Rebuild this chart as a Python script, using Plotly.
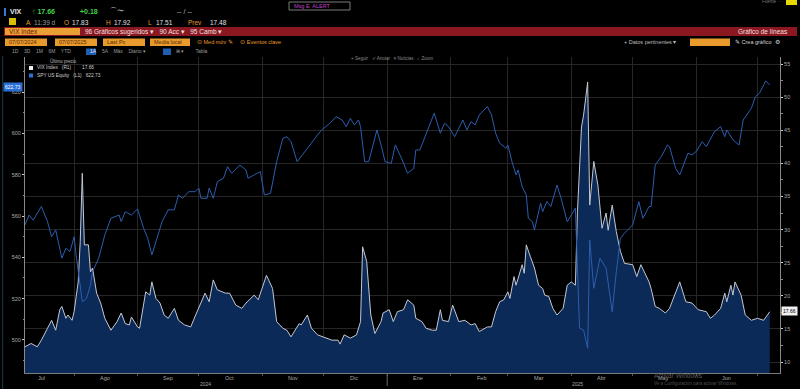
import plotly.graph_objects as go

# ---------------- data ----------------
spy_dates = ["2024-07-08","2024-07-10","2024-07-12","2024-07-16","2024-07-19","2024-07-21","2024-07-23","2024-07-26",
"2024-07-28","2024-07-30","2024-08-01","2024-08-02","2024-08-05","2024-08-07","2024-08-09","2024-08-10","2024-08-13",
"2024-08-16","2024-08-19","2024-08-23","2024-08-24","2024-08-26","2024-08-29","2024-09-01","2024-09-04","2024-09-06",
"2024-09-08","2024-09-10","2024-09-13","2024-09-16","2024-09-19","2024-09-21","2024-09-23","2024-09-26","2024-09-29",
"2024-10-01","2024-10-02","2024-10-05","2024-10-06","2024-10-08","2024-10-10","2024-10-13","2024-10-15","2024-10-17",
"2024-10-21","2024-10-24","2024-10-25","2024-10-28","2024-10-31","2024-11-02","2024-11-05","2024-11-08","2024-11-11",
"2024-11-13","2024-11-15","2024-11-18","2024-11-21","2024-11-25","2024-11-28","2024-11-30","2024-12-02","2024-12-04",
"2024-12-07","2024-12-10","2024-12-12","2024-12-14","2024-12-16","2024-12-18","2024-12-19","2024-12-21","2024-12-23",
"2024-12-27","2024-12-29","2024-12-31","2025-01-03","2025-01-05","2025-01-08","2025-01-11","2025-01-14","2025-01-15",
"2025-01-17","2025-01-20","2025-01-24","2025-01-27","2025-01-29","2025-01-31","2025-02-03","2025-02-07","2025-02-09",
"2025-02-11","2025-02-13","2025-02-15","2025-02-19","2025-02-21","2025-02-23","2025-02-25","2025-02-28","2025-03-01",
"2025-03-03","2025-03-05","2025-03-06","2025-03-08","2025-03-10","2025-03-11","2025-03-13","2025-03-14","2025-03-17",
"2025-03-18","2025-03-20","2025-03-22","2025-03-25","2025-03-27","2025-03-30","2025-04-01","2025-04-03","2025-04-05",
"2025-04-07","2025-04-09","2025-04-10","2025-04-12","2025-04-15","2025-04-18","2025-04-21","2025-04-23","2025-04-25",
"2025-04-27","2025-05-01","2025-05-04","2025-05-06","2025-05-09","2025-05-10","2025-05-12","2025-05-15","2025-05-18",
"2025-05-19","2025-05-22","2025-05-24","2025-05-28","2025-05-30","2025-06-01","2025-06-04","2025-06-06","2025-06-10",
"2025-06-13","2025-06-15","2025-06-16","2025-06-19","2025-06-22","2025-06-24","2025-06-28","2025-06-30","2025-07-02",
"2025-07-05","2025-07-07"]
spy_close = [555.7,560.5,558.0,564.6,557.3,550.0,553.3,539.6,544.4,542.8,550.0,541.0,518.5,520.0,526.6,533.0,539.6,
550.8,558.9,560.5,557.3,562.1,560.5,563.4,554.0,549.2,541.2,547.6,557.3,563.0,563.0,570.2,568.6,571.8,571.8,
573.5,568.6,568.6,573.5,568.6,576.6,578.3,583.9,580.7,584.7,582.3,578.3,579.9,581.5,570.2,571.0,586.3,597.6,
598.4,596.0,586.3,590.4,595.3,599.3,601.7,603.3,604.9,608.1,606.5,603.3,607.3,604.1,606.5,603.3,586.3,586.3,
601.7,594.4,586.3,585.5,594.4,588.0,580.7,583.1,592.0,592.0,599.3,609.8,600.1,604.9,603.3,598.4,606.5,601.7,
605.7,604.1,608.9,613.0,608.9,600.1,595.3,592.8,594.4,586.3,579.9,582.3,574.2,570.2,558.9,557.3,553.3,566.2,
562.1,567.0,564.6,575.0,568.6,557.3,560.5,563.8,505.7,504.8,496.0,548.4,525.0,539.6,534.7,513.7,533.0,549.2,
551.7,555.7,567.0,558.9,564.6,564.6,584.7,588.8,594.4,593.6,583.1,579.9,590.4,589.6,591.2,596.0,593.6,600.9,
603.3,598.4,601.7,596.9,594.4,606.5,612.2,617.8,619.5,625.4,623.5]

vix_dates = ["2024-07-08","2024-07-11","2024-07-14","2024-07-16","2024-07-19","2024-07-21","2024-07-23","2024-07-25",
"2024-07-26","2024-07-28","2024-07-29","2024-07-31","2024-08-01","2024-08-03","2024-08-04","2024-08-05","2024-08-06",
"2024-08-08","2024-08-09","2024-08-10","2024-08-12","2024-08-14","2024-08-16","2024-08-19","2024-08-22","2024-08-24",
"2024-08-26","2024-08-28","2024-08-29","2024-09-01","2024-09-02","2024-09-05","2024-09-07","2024-09-08","2024-09-10",
"2024-09-12","2024-09-14","2024-09-16","2024-09-19","2024-09-21","2024-09-24","2024-09-27","2024-09-29","2024-10-02",
"2024-10-04","2024-10-06","2024-10-08","2024-10-10","2024-10-14","2024-10-16","2024-10-19","2024-10-22","2024-10-24",
"2024-10-28","2024-10-30","2024-11-03","2024-11-05","2024-11-06","2024-11-08","2024-11-11","2024-11-13","2024-11-15",
"2024-11-19","2024-11-20","2024-11-23","2024-11-25","2024-11-28","2024-12-02","2024-12-05","2024-12-08","2024-12-09",
"2024-12-11","2024-12-14","2024-12-17","2024-12-19","2024-12-20","2024-12-22","2024-12-24","2024-12-26","2024-12-29",
"2024-12-30","2025-01-02","2025-01-04","2025-01-06","2025-01-09","2025-01-11","2025-01-14","2025-01-15","2025-01-18",
"2025-01-20","2025-01-23","2025-01-25","2025-01-27","2025-01-28","2025-01-31","2025-02-02","2025-02-05","2025-02-08",
"2025-02-11","2025-02-13","2025-02-15","2025-02-19","2025-02-21","2025-02-23","2025-02-25","2025-02-27","2025-03-01",
"2025-03-02","2025-03-04","2025-03-05","2025-03-08","2025-03-09","2025-03-10","2025-03-12","2025-03-14","2025-03-16",
"2025-03-18","2025-03-19","2025-03-21","2025-03-23","2025-03-25","2025-03-28","2025-03-30","2025-04-01","2025-04-03",
"2025-04-04","2025-04-06","2025-04-07","2025-04-09","2025-04-10","2025-04-12","2025-04-14","2025-04-16","2025-04-18",
"2025-04-19","2025-04-21","2025-04-23","2025-04-25","2025-04-27","2025-05-01","2025-05-03","2025-05-05","2025-05-09",
"2025-05-10","2025-05-12","2025-05-14","2025-05-17","2025-05-19","2025-05-22","2025-05-24","2025-05-27","2025-05-30",
"2025-06-02","2025-06-06","2025-06-08","2025-06-10","2025-06-13","2025-06-15","2025-06-16","2025-06-18","2025-06-19",
"2025-06-20","2025-06-23","2025-06-25","2025-06-28","2025-07-01","2025-07-04","2025-07-07"]
vix_close = [12.3,12.8,12.3,13.3,15.1,16.3,14.8,17.9,18.4,16.6,17.1,16.3,17.6,22.1,28.2,38.5,27.7,27.7,23.6,24.2,
20.4,18.9,16.6,14.8,16.1,17.4,15.8,15.6,16.8,15.3,15.1,20.6,20.1,22.1,19.6,18.9,17.1,16.6,18.1,16.3,15.6,15.3,
16.8,19.1,20.4,19.1,22.4,20.9,20.4,20.4,18.6,18.1,18.9,20.1,19.4,23.1,21.9,21.1,16.1,15.1,14.8,13.8,15.8,15.6,
17.1,15.1,14.1,13.6,13.3,13.3,12.7,14.1,13.6,14.1,16.1,27.4,25.2,17.1,14.3,16.1,17.4,17.9,16.1,17.6,17.9,19.4,
18.6,16.6,16.1,15.1,14.8,14.8,17.9,16.3,16.1,18.6,16.1,16.3,15.6,15.8,14.6,15.3,15.3,17.6,19.1,19.4,20.6,19.6,
22.9,21.6,24.7,23.4,27.7,25.9,24.2,21.6,21.1,20.1,19.9,18.1,17.1,18.1,21.6,22.1,21.6,32.7,45.5,47.3,52.3,33.7,
40.3,36.7,30.2,32.5,29.9,33.7,29.7,26.7,24.9,24.7,22.9,24.7,22.1,21.1,18.4,18.1,17.4,18.1,20.6,22.1,19.1,18.9,
17.9,17.6,16.6,17.1,18.1,20.4,19.1,21.6,20.1,22.1,20.1,17.1,16.3,16.6,16.3,17.6]

month_starts = ["2024-08-01","2024-09-01","2024-10-01","2024-11-01","2024-12-01","2025-01-01","2025-02-01",
                "2025-03-01","2025-04-01","2025-05-01","2025-06-01","2025-07-01"]
month_label_dates = ["2024-07-16","2024-08-16","2024-09-16","2024-10-16","2024-11-16","2024-12-16","2025-01-16",
                     "2025-02-16","2025-03-16","2025-04-16","2025-05-16","2025-06-16"]
month_labels = ["Jul","Ago","Sep","Oct","Nov","Dic","Ene","Feb","Mar","Abr","May","Jun"]
year_label_dates = ["2024-10-04","2025-04-04"]
year_labels = ["2024","2025"]
vix_ticks = [10,15,20,25,30,35,40,45,50,55]
spy_ticks = [500,520,540,560,580,600,620]
vix_last = "17.66"
spy_last = "622.73"

# ---------------- layout helpers (pixel -> paper) ----------------
L, R, T, B = 25, 780, 57, 373
W, H = 800, 389
def px(x): return (x - L) / (R - L)
def py(y): return (B - y) / (B - T)

FONT = "Liberation Sans"
GRAY = "#a8a8a8"

fig = go.Figure()
fig.add_trace(go.Scatter(x=vix_dates, y=vix_close, mode="lines", yaxis="y",
                         line=dict(color="#c3c8d2", width=1), fill="tozeroy",
                         fillcolor="#0b2a57", name="VIX Index", showlegend=False, hoverinfo="skip"))
fig.add_trace(go.Scatter(x=spy_dates, y=spy_close, mode="lines", yaxis="y2",
                         line=dict(color="#2c5eb0", width=1), name="SPY US Equity",
                         showlegend=False, hoverinfo="skip"))

ann = []
shapes = []
def text(x, y, s, color=GRAY, size=6, anchor="left", bg=None, bold=False):
    d = dict(x=px(x), y=py(y), xref="paper", yref="paper", text=("<b>%s</b>" % s if bold else s),
             showarrow=False, xanchor=anchor, yanchor="middle",
             font=dict(family=FONT, size=size, color=color))
    if bg:
        d["bgcolor"] = bg
        d["borderpad"] = 1
    ann.append(d)
def rect(x0, y0, x1, y1, fill, line=None):
    shapes.append(dict(type="rect", xref="paper", yref="paper", x0=px(x0), x1=px(x1), y0=py(y1), y1=py(y0),
                       fillcolor=fill, line=dict(width=0.8 if line else 0, color=line or fill), layer="above"))

# header row 1
rect(4, 8, 6, 16, "#3a78d8")
text(8, 12, "VIX", "#e8e8e8", 7, bold=True)
text(30, 12, "↑ 17.66", "#46d046", 7, bold=True)
text(78, 12, "+0.18", "#46d046", 7, bold=True)
text(108, 11, "⌒〜", "#bfbfbf", 7)
text(175, 12, "-- / --", "#bfbfbf", 7)
rect(289, 2, 350, 10, "#000000", "#9a9a9a")
text(292, 6, "Msg E  ALERT", "#c040c8", 5.5)
rect(786, 0, 797, 5, "#e6d800")
text(760, 2, "Fuente  ···", "#7a7a7a", 4.5)
# header row 2
rect(9, 18, 16, 25, "#d8c000")
text(24, 22, "A", "#e89a2c", 6.5)
text(32, 22, "11:39 d", "#9a9a9a", 6.5)
text(62, 22, "O", "#e89a2c", 6.5)
text(70, 22, "17.83", "#e0e0e0", 6.5)
text(104, 22, "H", "#e89a2c", 6.5)
text(112, 22, "17.92", "#e0e0e0", 6.5)
text(146, 22, "L", "#e89a2c", 6.5)
text(154, 22, "17.51", "#e0e0e0", 6.5)
text(186, 22, "Prev", "#e89a2c", 6.5)
text(208, 22, "17.48", "#e0e0e0", 6.5)
# header row 3: red bar
rect(4, 27, 797, 36, "#8b1820")
rect(5, 28, 80, 35, "#eba035")
text(7, 31.5, "VIX Index", "#6b1a10", 6.5)
text(83, 31.5, "96 Gráficos sugeridos ▾   90 Acc ▾   95 Camb ▾", "#f0e0e0", 6.5)
text(790, 31.5, "Gráfico de líneas", "#f0e0e0", 6.5, anchor="right")
# header row 4
for (x0, x1, s) in [(5, 47, "07/07/2024"), (55, 97, "07/07/2025"), (103, 145, "Last Px"), (150, 190, "Media local")]:
    rect(x0, 38.5, x1, 46, "#e89a2c")
    text(x0 + 2, 42.3, s, "#5a2a08", 5.5)
text(195, 42.3, "⊙ Med móv ✎     ⊙ Eventos clave", "#e89a2c", 5.5)
text(622, 42.3, "+ Datos pertinentes ▾", "#bdbdbd", 5.5)
rect(690, 38.5, 730, 46, "#e89a2c")
text(733, 42.3, "✎ Crea gráfico  ⚙", "#d0d0d0", 5.5)
# header row 5
text(10, 51.5, "1D    3D    1M    6M    YTD", "#9a9a9a", 5)
rect(86, 48.5, 96, 55, "#1e5fb4")
text(88, 51.5, "1A", "#e8e8e8", 5)
text(100, 51.5, "5A    Máx    Diario ▾", "#9a9a9a", 5)
rect(163, 48.5, 171, 55, "#1e5fb4")
text(174, 51.5, "⊞ ▾        Tabla", "#9a9a9a", 5)
# chart toolbar
text(392, 58.5, "+ Seguir   ✓ Anotar   ≡ Noticias   ⌕ Zoom", "#8a8a8a", 4.5, anchor="center")
# legend
text(63, 61.5, "Último precio", "#bdbdbd", 4.5, anchor="center")
rect(29, 66, 33, 70, "#f0f0f0")
text(35, 68, "VIX Index   (R1)", "#d0d0d0", 4.8)
text(96, 68, vix_last, "#d0d0d0", 4.8, anchor="right")
rect(29, 73.5, 33, 77.5, "#2e6fd6")
text(35, 75.5, "SPY US Equity   (L1)   " + spy_last, "#d0d0d0", 4.8)
# highlighted last values on axes
text(13, 87, spy_last, "#ffffff", 5, anchor="center", bg="#2a6fd6")
text(789, 311, vix_last, "#000000", 5, anchor="center", bg="#f0f0f0")
# left side thin bar
rect(2, 56, 3.2, 389, "#0f3340")
# month labels and years
for d, s in zip(month_label_dates, month_labels):
    ann.append(dict(x=d, y=py(377.5), xref="x", yref="paper", text=s, showarrow=False, xanchor="center",
                    yanchor="middle", font=dict(family=FONT, size=5.5, color=GRAY)))
for d, s in zip(year_label_dates, year_labels):
    ann.append(dict(x=d, y=py(383.5), xref="x", yref="paper", text=s, showarrow=False, xanchor="center",
                    yanchor="middle", font=dict(family=FONT, size=5, color=GRAY)))
shapes.append(dict(type="line", xref="x", yref="paper", x0="2025-01-01", x1="2025-01-01",
                   y0=py(373), y1=py(386), line=dict(color="#6a6a6a", width=1)))
# windows watermark
text(652, 375.5, "Activar Windows", "#5c5c5c", 6.5)
text(652, 383.5, "Ve a Configuración para activar Windows.", "#4e4e4e", 4.5)

fig.update_layout(
    width=W, height=H, margin=dict(l=L, r=W - R, t=T, b=H - B),
    paper_bgcolor="#000000", plot_bgcolor="#000000",
    font=dict(family=FONT, size=6, color=GRAY),
    xaxis=dict(type="date", range=["2024-07-08", "2025-07-12"], tickvals=month_starts, showticklabels=False,
               showgrid=True, gridcolor="#262626", gridwidth=1, ticks="outside", ticklen=2, tickcolor="#5a5a5a",
               showline=True, linecolor="#7a7a7a", zeroline=False),
    yaxis=dict(side="right", anchor="x", range=[8.34, 56.07], tickvals=vix_ticks,
               ticklabeloverflow="allow", showgrid=True, gridcolor="#262626",
               ticks="outside", ticklen=2, tickcolor="#cfcfcf", showline=True, linecolor="#8a8a8a",
               zeroline=False, tickfont=dict(family=FONT, size=5.5, color=GRAY), automargin=False,
               minor=dict(dtick=2.5, tick0=0, ticks="outside", ticklen=1.5, tickcolor="#8a8a8a", showgrid=False)),
    yaxis2=dict(side="left", overlaying="y", anchor="x", range=[484.0, 637.0], tickvals=spy_ticks, showgrid=False,
                ticklabeloverflow="allow",
                ticks="outside", ticklen=2, tickcolor="#cfcfcf", showline=True, linecolor="#8a8a8a",
                zeroline=False, tickfont=dict(family=FONT, size=5.5, color=GRAY), automargin=False,
                minor=dict(dtick=10, tick0=0, ticks="outside", ticklen=1.5, tickcolor="#8a8a8a", showgrid=False)),
    annotations=ann, shapes=shapes,
)
fig.write_html("out.html", config={"displayModeBar": False},
               post_script="document.body.style.margin='0';document.body.style.overflow='hidden';")
